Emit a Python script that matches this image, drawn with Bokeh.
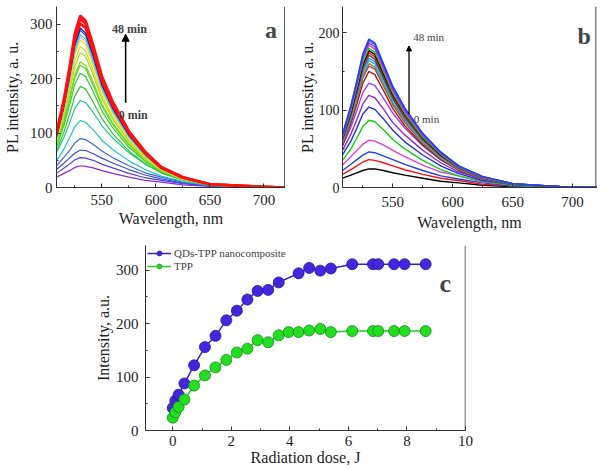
from bokeh.plotting import figure
from bokeh.models import Range1d, Label, Arrow, NormalHead, Legend, LegendItem, FixedTicker, Span
from bokeh.layouts import column, row
from bokeh.embed import file_html
from bokeh.resources import INLINE

# ---------------- data ----------------
wavelength = [508, 515, 520, 525, 530, 535, 542, 550, 560, 575, 590, 605, 625, 650, 690, 720]

spectra_a = [
    [19, 26, 31, 37, 40, 39, 36, 31, 26, 19, 13, 10, 5, 2, 0, 0],
    [26, 36, 43, 51, 55, 54, 50, 43, 36, 26, 18, 13, 7, 3, 1, 0],
    [33, 45, 54, 63, 69, 68, 62, 54, 45, 33, 23, 16, 8, 3, 1, 0],
    [40, 56, 68, 82, 90, 88, 79, 67, 55, 40, 27, 19, 10, 4, 1, 0],
    [49, 71, 91, 112, 123, 120, 106, 87, 70, 49, 33, 21, 11, 4, 1, 0],
    [64, 93, 118, 146, 160, 156, 138, 114, 91, 64, 43, 27, 14, 6, 1, 0],
    [67, 103, 134, 168, 186, 181, 157, 127, 99, 67, 44, 27, 14, 5, 1, 0],
    [74, 115, 151, 190, 210, 204, 176, 141, 110, 74, 48, 29, 15, 5, 1, 0],
    [77, 121, 160, 203, 225, 219, 188, 150, 116, 78, 50, 30, 15, 5, 1, 0],
    [79, 124, 164, 208, 231, 225, 193, 154, 119, 80, 51, 31, 15, 5, 1, 0],
    [82, 131, 175, 223, 248, 241, 207, 163, 126, 84, 53, 31, 15, 5, 1, 0],
    [85, 136, 182, 233, 259, 251, 215, 169, 130, 86, 55, 32, 16, 5, 1, 0],
    [88, 142, 190, 244, 271, 263, 225, 177, 136, 90, 57, 33, 16, 5, 1, 0],
    [89, 145, 194, 249, 277, 269, 230, 180, 139, 92, 58, 34, 17, 6, 1, 0],
    [90, 146, 197, 253, 281, 273, 233, 183, 141, 93, 59, 34, 17, 6, 1, 0],
    [93, 150, 202, 260, 289, 280, 240, 188, 145, 96, 61, 35, 17, 6, 1, 0],
    [94, 152, 205, 264, 293, 284, 243, 190, 147, 97, 62, 35, 18, 6, 1, 0],
    [97, 157, 211, 272, 302, 293, 251, 196, 151, 100, 63, 36, 18, 6, 2, 0],
    [99, 161, 217, 279, 310, 301, 257, 202, 155, 102, 65, 37, 19, 6, 2, 0],
    [101, 164, 221, 284, 316, 307, 262, 205, 158, 104, 66, 38, 19, 6, 2, 0],
]
colors_a = ["#8a2be2", "#5a3fd8", "#3a4fd0", "#3f6ad8", "#1fc4c4", "#20c890",
            "#2dc82d", "#30d030", "#55d020", "#7ad81a", "#a8dc18", "#c8e010",
            "#e8e020", "#f0b8a0", "#30d0e0", "#2050e0", "#101090",
            "#ff1010", "#ff1010", "#ff1010"]

spectra_b = [
    [12, 16, 19, 22, 24, 24, 22, 19, 16, 12, 8, 6, 3, 1, 0, 0],
    [17, 23, 28, 33, 36, 35, 32, 28, 23, 17, 12, 9, 4, 2, 0, 0],
    [22, 30, 36, 42, 46, 45, 41, 36, 30, 22, 15, 11, 6, 2, 0, 0],
    [29, 40, 48, 56, 61, 60, 55, 48, 40, 29, 20, 15, 7, 3, 1, 0],
    [35, 50, 64, 79, 87, 85, 75, 62, 50, 35, 23, 15, 8, 3, 1, 0],
    [42, 60, 77, 95, 104, 101, 89, 74, 59, 42, 28, 18, 9, 4, 1, 0],
    [48, 69, 88, 108, 119, 116, 102, 84, 68, 48, 32, 20, 11, 4, 1, 0],
    [54, 78, 100, 123, 135, 132, 116, 96, 77, 54, 36, 23, 12, 5, 1, 0],
    [54, 83, 108, 135, 150, 146, 126, 102, 80, 55, 36, 22, 11, 4, 1, 0],
    [56, 87, 113, 142, 157, 153, 132, 107, 84, 57, 38, 23, 11, 4, 1, 0],
    [58, 88, 115, 144, 160, 156, 134, 109, 86, 58, 38, 23, 12, 4, 1, 0],
    [59, 90, 118, 148, 164, 160, 137, 112, 88, 60, 39, 24, 12, 4, 1, 0],
    [60, 92, 120, 150, 167, 163, 140, 114, 89, 61, 40, 24, 12, 4, 1, 0],
    [62, 94, 123, 154, 171, 166, 143, 116, 91, 62, 41, 25, 12, 4, 1, 0],
    [63, 96, 125, 157, 174, 169, 146, 118, 93, 63, 41, 25, 13, 4, 1, 0],
    [64, 97, 127, 159, 177, 172, 148, 120, 95, 64, 42, 26, 13, 4, 1, 0],
    [65, 99, 130, 162, 180, 175, 151, 122, 96, 65, 43, 26, 13, 4, 1, 0],
    [66, 101, 132, 166, 184, 179, 154, 125, 98, 67, 44, 27, 13, 5, 1, 0],
    [67, 103, 135, 168, 187, 182, 157, 127, 100, 68, 45, 27, 14, 5, 1, 0],
    [68, 105, 137, 171, 190, 185, 159, 129, 102, 69, 45, 28, 14, 5, 1, 0],
    [69, 106, 138, 173, 192, 187, 161, 131, 103, 70, 46, 28, 14, 5, 1, 0],
]
colors_b = ["#000000", "#ff1010", "#2040e0", "#e040d0", "#10d010", "#2030e0",
            "#8a30e0", "#a040e0", "#a01818", "#c04040", "#808040", "#20c0d0",
            "#4090e0", "#404040", "#ff1010", "#000000", "#10d010", "#e040d0",
            "#8a30e0", "#3050f0", "#2040f0"]

dose = [0.0, 0.09, 0.2, 0.4, 0.73, 1.1, 1.46, 1.83, 2.19, 2.55, 2.9, 3.26, 3.62,
        4.3, 4.66, 5.04, 5.4, 6.13, 6.84, 7.02, 7.56, 7.92, 8.64]
qds_tpp = [42, 56, 67, 88, 122, 156, 177, 206, 224, 245, 261, 263, 277,
           294, 304, 299, 303, 311, 311, 311, 311, 311, 311]
dose_tpp = [0.0, 0.09, 0.2, 0.4, 0.73, 1.1, 1.46, 1.83, 2.19, 2.55, 2.9, 3.26, 3.62,
            3.96, 4.3, 4.66, 5.04, 5.4, 6.13, 6.84, 7.02, 7.56, 7.92, 8.64]
tpp = [24, 34, 44, 58, 84, 103, 118, 132, 146, 153, 169, 165, 178,
       184, 184, 187, 190, 184, 186, 186, 186, 186, 186, 186]

SERIF = "Liberation Serif"
INK = "#1e1e1e"


def style(p, xticks, yticks, xend, std):
    p.xgrid.visible = False
    p.ygrid.visible = False
    p.outline_line_color = None
    p.xaxis.ticker = FixedTicker(ticks=xticks[0], minor_ticks=xticks[1])
    p.yaxis.ticker = FixedTicker(ticks=yticks[0], minor_ticks=yticks[1])
    for ax in (p.xaxis[0], p.yaxis[0]):
        ax.major_tick_in = 4
        ax.major_tick_out = 0
        ax.minor_tick_in = 2
        ax.minor_tick_out = 0
        ax.axis_line_color = "#333333"
        ax.major_tick_line_color = "#333333"
        ax.minor_tick_line_color = "#333333"
        ax.major_label_text_font = SERIF
        ax.major_label_text_font_size = "15px"
        ax.major_label_text_color = INK
        ax.axis_label_text_font = SERIF
        ax.axis_label_text_font_style = "normal"
        ax.axis_label_text_font_size = "16px"
        ax.axis_label_text_color = INK
    p.xaxis[0].major_label_standoff = std[0]
    p.xaxis[0].axis_label_standoff = std[1]
    p.yaxis[0].major_label_standoff = std[2]
    p.yaxis[0].axis_label_standoff = std[3]
    p.add_layout(Span(location=xend, dimension="height", line_color="#333333", line_width=1.2))


# ---------------- panel a ----------------
pa = figure(width=285, height=233, output_backend="svg", toolbar_location=None,
            x_range=Range1d(508, 720), y_range=Range1d(0, 333),
            min_border_left=54, min_border_right=0, min_border_top=6, min_border_bottom=43)
for ys, c in zip(spectra_a, colors_a):
    pa.line(wavelength, ys, line_color=c, line_width=2.6 if c == "#ff1010" else 1.2)
style(pa, ([550, 600, 650, 700], [525, 575, 625, 675]), ([0, 100, 200, 300], [50, 150, 250]),
      719.4, (7, 2, 4, 6))
pa.xaxis[0].axis_label = "Wavelength, nm"
pa.yaxis[0].axis_label = "PL intensity, a. u."
pa.add_layout(Arrow(end=NormalHead(size=7, fill_color="black", line_color="black"),
                    x_start=572, y_start=156, x_end=572, y_end=282, line_width=1.6))
pa.add_layout(Label(x=575.5, y=291, text="48 min", text_font=SERIF, text_font_size="12px",
                    text_align="center", text_baseline="middle", text_font_style="bold"))
pa.add_layout(Label(x=579, y=134, text="0 min", text_font=SERIF, text_font_size="12px",
                    text_align="center", text_baseline="middle", text_font_style="bold"))
pa.add_layout(Label(x=706.5, y=289, text="a", text_font=SERIF, text_font_size="24px",
                    text_align="center", text_baseline="middle", text_font_style="bold"))

# ---------------- panel b ----------------
pb = figure(width=319, height=233, output_backend="svg", toolbar_location=None,
            x_range=Range1d(508, 720), y_range=Range1d(0, 234),
            min_border_left=57, min_border_right=8, min_border_top=6, min_border_bottom=43)
for ys, c in zip(spectra_b, colors_b):
    pb.line(wavelength, ys, line_color=c, line_width=1.4)
style(pb, ([550, 600, 650, 700], [525, 575, 625, 675]), ([0, 100, 200], [50, 150]),
      719.6, (9, 4, 3, 0))
pb.yaxis[0].major_label_text_font_size = "14px"
pb.xaxis[0].axis_label = "Wavelength, nm"
pb.yaxis[0].axis_label = "PL intensity, a. u."
pb.add_layout(Arrow(end=NormalHead(size=5, fill_color="black", line_color="black"),
                    x_start=563.5, y_start=95, x_end=563.5, y_end=183, line_width=1.3))
pb.add_layout(Label(x=567, y=194, text="48 min", text_font=SERIF, text_font_size="11px",
                    text_align="left", text_baseline="middle"))
pb.add_layout(Label(x=567.5, y=88, text="0 min", text_font=SERIF, text_font_size="11px",
                    text_align="left", text_baseline="middle"))
pb.add_layout(Label(x=709.7, y=196, text="b", text_font=SERIF, text_font_size="24px",
                    text_align="center", text_baseline="middle", text_font_style="bold"))

# ---------------- panel c ----------------
pc = figure(width=480, height=236, output_backend="svg", toolbar_location=None,
            x_range=Range1d(-0.93, 10), y_range=Range1d(0, 346),
            min_border_left=145, min_border_right=15, min_border_top=12, min_border_bottom=39)
l1 = pc.line(dose, qds_tpp, line_color="#3a1fd0", line_width=1.5)
s1 = pc.scatter(dose, qds_tpp, size=11, fill_color="#4426dc", line_color="#2a10a0", line_width=0.8)
l2 = pc.line(dose_tpp, tpp, line_color="#22cc22", line_width=1.5)
s2 = pc.scatter(dose_tpp, tpp, size=11, fill_color="#22dd22", line_color="#109010", line_width=0.8)
style(pc, ([0, 2, 4, 6, 8, 10], [1, 3, 5, 7, 9]), ([0, 100, 200, 300], [50, 150, 250]),
      9.995, (5, 0, 7, 1))
pc.xaxis[0].axis_label = "Radiation dose, J"
pc.yaxis[0].axis_label = "Intensity, a.u."
leg = Legend(items=[LegendItem(label="QDs-TPP nanocomposite", renderers=[l1, s1]),
                    LegendItem(label="TPP", renderers=[l2, s2])],
             location="top_left", border_line_color=None, background_fill_alpha=0,
             label_text_font=SERIF, label_text_font_size="11px", glyph_width=24,
             glyph_height=12, spacing=1, padding=0, margin=2, label_standoff=3,
             label_height=12)
pc.add_layout(leg)
pc.add_layout(Label(x=9.31, y=275, text="c", text_font=SERIF, text_font_size="26px",
                    text_align="center", text_baseline="middle", text_font_style="bold"))

layout = column(row(pa, pb), pc)
open("out.html", "w").write(file_html(layout, INLINE))
